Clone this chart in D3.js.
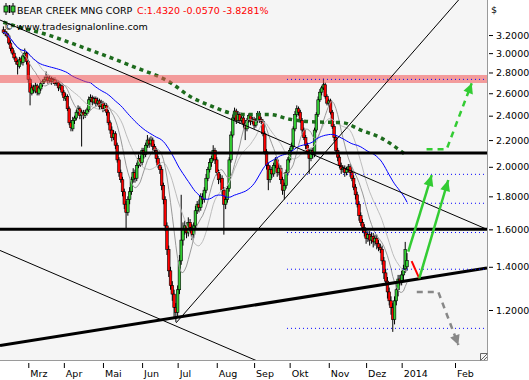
<!DOCTYPE html>
<html>
<head>
<meta charset="utf-8">
<script src="https://cdn.jsdelivr.net/npm/d3@7"></script>
<style>
  body { margin: 0; background: #fff; }
  svg { display: block; }
</style>
</head>
<body>
<svg id="chart" width="529" height="380"></svg>
<script>
// ---- data ----
var firstDay = '2013-02-08', lastDay = '2014-01-07';
var holidays = ['2013-02-18','2013-03-29','2013-05-20','2013-07-01','2013-08-05',
                '2013-09-02','2013-10-14','2013-12-25','2013-12-26','2014-01-01'];
var futureTicks = ['2014-02-03'];
var monthNames = ['Jan','Feb','Mrz','Apr','Mai','Jun','Jul','Aug','Sep','Okt','Nov','Dez'];
var priceTicks = [1.2, 1.4, 1.6, 1.8, 2.0, 2.2, 2.4, 2.6, 2.8, 3.0, 3.2];

var opens = [
  3.26,3.24,3.22,3.19,3.11,3.05,3.00,2.95,2.91,2.86, 2.94,2.90,2.96,3.00,2.91,2.73,2.60,2.66,2.62,2.67,
  2.60,2.64,2.69,2.71,2.73,2.75,2.72,2.74,2.71,2.73, 2.69,2.70,2.65,2.67,2.61,2.55,2.57,2.46,2.34,2.29,
  2.36,2.38,2.43,2.46,2.40,2.43,2.40,2.42,2.45,2.54, 2.56,2.52,2.55,2.51,2.53,2.48,2.51,2.46,2.49,2.43,
  2.34,2.28,2.22,2.25,2.16,2.05,1.96,1.91,1.83,1.75, 1.70,1.78,1.83,1.91,1.96,1.92,2.01,2.06,2.03,2.12,
  2.09,2.16,2.20,2.17,2.20,2.15,2.12,2.06,2.01,1.98, 1.87,1.78,1.62,1.49,1.38,1.31,1.27,1.21,1.19,1.29,
  1.43,1.54,1.60,1.62,1.58,1.64,1.61,1.57,1.62,1.71, 1.75,1.73,1.80,1.78,1.84,1.92,1.98,2.03,2.06,2.12,
  2.05,1.96,1.91,1.92,1.84,1.75,1.78,1.85,2.05,2.24, 2.38,2.44,2.36,2.41,2.36,2.38,2.33,2.29,2.36,2.40,
  2.35,2.37,2.32,2.36,2.42,2.37,2.35,2.25,2.11,2.01, 1.91,1.98,1.95,2.01,2.05,1.96,1.99,1.91,1.84,1.87,
  1.96,2.05,2.12,2.15,2.29,2.41,2.46,2.43,2.36,2.28, 2.22,2.16,2.11,2.06,2.12,2.09,2.28,2.41,2.54,2.61,
  2.65,2.68,2.57,2.51,2.53,2.43,2.31,2.22,2.12,2.07, 2.01,1.98,1.99,1.96,1.98,2.00,1.96,1.92,1.86,1.81,
  1.75,1.68,1.64,1.61,1.58,1.55,1.57,1.54,1.56,1.53, 1.55,1.52,1.50,1.49,1.43,1.37,1.33,1.28,1.24,1.21,
  1.16,1.24,1.29,1.34,1.33,1.36,1.39,1.40
];
var highs = [
  3.30,3.27,3.24,3.21,3.14,3.07,3.03,2.97,2.93,2.96, 2.96,2.99,3.05,3.02,2.93,2.75,2.68,2.68,2.70,2.69,
  2.67,2.71,2.73,2.76,2.81,2.77,2.77,2.76,2.75,2.75, 2.73,2.72,2.69,2.69,2.63,2.60,2.59,2.48,2.36,2.39,
  2.40,2.45,2.49,2.48,2.45,2.45,2.45,2.47,2.57,2.59, 2.58,2.57,2.57,2.56,2.55,2.54,2.53,2.51,2.51,2.45,
  2.36,2.31,2.28,2.27,2.18,2.07,1.98,1.93,1.85,1.77, 1.80,1.86,1.93,1.99,1.98,2.03,2.09,2.08,2.14,2.14,
  2.18,2.24,2.22,2.23,2.22,2.17,2.14,2.08,2.03,2.00, 1.89,1.80,1.64,1.51,1.40,1.33,1.29,1.23,1.31,1.46,
  1.81,1.64,1.65,1.64,1.67,1.66,1.63,1.64,1.74,1.77, 1.78,1.82,1.82,1.86,1.95,2.00,2.06,2.08,2.16,2.14,
  2.07,1.98,1.95,1.94,1.86,1.80,1.87,2.07,2.27,2.41, 2.47,2.46,2.44,2.43,2.40,2.40,2.35,2.38,2.42,2.42,
  2.39,2.39,2.38,2.44,2.44,2.39,2.37,2.27,2.13,2.03, 2.01,2.00,2.03,2.07,2.07,2.01,2.01,1.93,1.89,1.98,
  2.07,2.14,2.18,2.31,2.44,2.49,2.48,2.45,2.38,2.30, 2.24,2.18,2.13,2.14,2.14,2.30,2.43,2.57,2.64,2.67,
  2.74,2.70,2.59,2.55,2.55,2.45,2.33,2.24,2.14,2.09, 2.03,2.01,2.01,2.00,2.02,2.02,1.98,1.94,1.88,1.83,
  1.77,1.70,1.66,1.63,1.60,1.59,1.59,1.58,1.58,1.57, 1.57,1.54,1.52,1.51,1.45,1.39,1.35,1.30,1.26,1.23,
  1.26,1.31,1.36,1.36,1.38,1.41,1.53,1.47
];
var lows = [
  3.21,3.19,3.17,3.09,3.02,2.98,2.93,2.88,2.78,2.84, 2.88,2.87,2.94,2.88,2.70,2.49,2.58,2.60,2.60,2.58,
  2.58,2.62,2.66,2.69,2.71,2.69,2.70,2.68,2.69,2.67, 2.67,2.62,2.63,2.58,2.53,2.53,2.44,2.32,2.27,2.27,
  2.33,2.36,2.41,2.37,2.15,2.37,2.38,2.40,2.43,2.52, 2.49,2.50,2.48,2.49,2.45,2.46,2.43,2.44,2.40,2.32,
  2.25,2.19,2.20,2.13,2.03,1.93,1.89,1.80,1.72,1.60, 1.68,1.75,1.81,1.89,1.89,1.90,1.99,2.00,2.01,2.06,
  2.07,2.14,2.14,2.15,2.12,2.10,2.03,1.99,1.95,1.84, 1.75,1.59,1.46,1.35,1.29,1.24,1.17,1.15,1.17,1.27,
  1.41,1.51,1.57,1.55,1.56,1.58,1.54,1.55,1.60,1.69, 1.70,1.71,1.75,1.76,1.82,1.90,1.96,2.00,2.04,2.02,
  1.94,1.88,1.89,1.81,1.57,1.72,1.76,1.83,2.03,2.22, 2.36,2.33,2.34,2.33,2.34,2.30,2.20,2.27,2.34,2.32,
  2.33,2.29,2.30,2.34,2.34,2.33,2.23,2.09,1.98,1.84, 1.89,1.92,1.93,1.99,1.93,1.94,1.88,1.81,1.78,1.85,
  1.94,2.03,2.09,2.13,2.27,2.39,2.40,2.34,2.25,2.20, 2.13,2.09,1.95,2.04,2.06,2.07,2.26,2.39,2.52,2.58,
  2.63,2.55,2.49,2.48,2.41,2.29,2.19,2.10,2.04,1.99, 1.95,1.96,1.93,1.94,1.96,1.93,1.90,1.84,1.78,1.73,
  1.65,1.62,1.58,1.56,1.52,1.53,1.51,1.52,1.50,1.51, 1.49,1.48,1.47,1.41,1.34,1.31,1.25,1.22,1.18,1.11,
  1.14,1.22,1.26,1.31,1.31,1.33,1.37,1.38
];
var closes = [
  3.23,3.22,3.19,3.11,3.05,3.00,2.95,2.91,2.88,2.93, 2.91,2.97,3.00,2.91,2.73,2.61,2.65,2.63,2.67,2.61,
  2.65,2.69,2.71,2.73,2.75,2.72,2.74,2.71,2.73,2.69, 2.70,2.65,2.67,2.61,2.56,2.57,2.46,2.34,2.30,2.36,
  2.38,2.43,2.46,2.40,2.43,2.40,2.42,2.45,2.54,2.56, 2.52,2.55,2.51,2.53,2.48,2.51,2.46,2.49,2.43,2.34,
  2.28,2.22,2.25,2.16,2.05,1.96,1.91,1.83,1.75,1.70, 1.78,1.83,1.91,1.96,1.92,2.01,2.06,2.03,2.12,2.09,
  2.16,2.20,2.17,2.20,2.15,2.12,2.06,2.01,1.98,1.87, 1.78,1.62,1.49,1.38,1.31,1.27,1.21,1.19,1.29,1.43,
  1.54,1.60,1.62,1.58,1.64,1.61,1.57,1.62,1.71,1.75, 1.73,1.80,1.78,1.84,1.92,1.98,2.03,2.06,2.12,2.05,
  1.96,1.91,1.92,1.84,1.75,1.78,1.85,2.05,2.24,2.38, 2.44,2.36,2.41,2.36,2.38,2.33,2.29,2.36,2.40,2.35,
  2.37,2.32,2.36,2.42,2.37,2.35,2.25,2.11,2.01,1.91, 1.98,1.95,2.01,2.05,1.96,1.99,1.91,1.84,1.87,1.96,
  2.05,2.12,2.15,2.29,2.41,2.46,2.43,2.36,2.28,2.22, 2.16,2.11,2.06,2.12,2.09,2.28,2.41,2.54,2.61,2.65,
  2.68,2.57,2.51,2.53,2.43,2.31,2.22,2.12,2.07,2.01, 1.98,1.99,1.96,1.98,2.00,1.96,1.92,1.86,1.81,1.75,
  1.68,1.64,1.61,1.58,1.55,1.57,1.54,1.56,1.53,1.55, 1.52,1.50,1.49,1.43,1.37,1.33,1.28,1.24,1.21,1.16,
  1.24,1.29,1.34,1.33,1.36,1.39,1.489,1.432
];

// long (dark green dotted) average, read as [bar, price]
var longAverage = [[0,3.35],[9,3.29],[22,3.22],[45,3.06],[73,2.86],[94,2.70],[105,2.57],[116,2.49],
  [129,2.42],[139,2.41],[150,2.41],[161,2.37],[172,2.35],[191,2.34],[201,2.28],[212,2.22],[226,2.09]];

// drawn annotations, [bar, price]
var resistanceZone = [2.697, 2.775];
var thickLevels = [2.10, 1.60];
var dottedLevels = [2.732, 1.947, 1.756, 1.582, 1.388, 1.124];
var dottedFrom = 159.5, rightBar = 272;
var thinTrends = [
  [[-1.9, 3.376], [272, 1.600]],
  [[-1.9, 1.484], [150, 0.981]],
  [[97.1, 1.146], [262, 3.787]]
];
var thickTrends = [[[-1.9, 1.057], [272, 1.394]]];
var redLeg = [[229.6, 1.429], [233.9, 1.343]];
var greenArrows = [
  [[227.7, 1.478], [240.9, 1.942]],
  [[233.9, 1.343], [250.2, 1.908]]
];
var greenDashed = [[238, 2.129], [249.3, 2.129], [263.4, 2.694]];
var grayDashed = [[232.5, 1.28], [244.6, 1.28], [255.9, 1.059]];

// ---- build ----
var font = '"DejaVu Sans", Verdana, sans-serif';
var parse = d3.utcParse('%Y-%m-%d'), fmt = d3.utcFormat('%Y-%m-%d');
var days = d3.utcDay.range(parse(firstDay), d3.utcDay.offset(parse(lastDay), 1))
  .filter(function(d) { return d.getUTCDay() % 6 !== 0 && holidays.indexOf(fmt(d)) < 0; });

var last = closes.length - 1;
var x = d3.scaleLinear().domain([0, last]).range([3.4, 407]);
var y = d3.scaleLog().domain([1.004, 3.626]).range([360, 0]);

// month ticks: first bar of each month, then future dates on a calendar-day basis
var monthTicks = [];
days.forEach(function(d, i) {
  if (i > 0 && d.getUTCMonth() !== days[i - 1].getUTCMonth()) {
    var m = d.getUTCMonth();
    monthTicks.push({ i: i, label: m === 0 ? String(d.getUTCFullYear()) : monthNames[m] });
  }
});
futureTicks.forEach(function(s) {
  var d = parse(s);
  monthTicks.push({ i: last + d3.utcDay.count(days[last], d), label: monthNames[d.getUTCMonth()] });
});

var svg = d3.select('#chart');
svg.append('rect').attr('width', 529).attr('height', 380).attr('fill', '#fff');
svg.append('rect').attr('width', 487).attr('height', 360).attr('fill', '#f5f5f5');
svg.append('clipPath').attr('id', 'clip').append('rect').attr('width', 487).attr('height', 360);

var g = svg.append('g').attr('clip-path', 'url(#clip)');

// candles
var bars = closes.map(function(c, i) { return { i: i, o: opens[i], h: highs[i], l: lows[i], c: c }; });
var bar = g.append('g').selectAll('g').data(bars).enter().append('g');
bar.append('line')
  .attr('x1', function(d) { return x(d.i); }).attr('x2', function(d) { return x(d.i); })
  .attr('y1', function(d) { return y(d.h); }).attr('y2', function(d) { return y(d.l); })
  .attr('stroke', '#000').attr('stroke-width', 1);
bar.append('rect')
  .attr('x', function(d) { return x(d.i) - 1.3; })
  .attr('width', 2.6)
  .attr('y', function(d) { return y(Math.max(d.o, d.c)); })
  .attr('height', function(d) { return Math.max(0.8, Math.abs(y(d.o) - y(d.c))); })
  .attr('fill', function(d) { return d.c >= d.o ? '#33cc33' : '#ff0000'; })
  .attr('stroke', '#000').attr('stroke-width', 0.6);

// moving averages
function sma(n) {
  return closes.map(function(c, i) { return d3.mean(closes.slice(Math.max(0, i - n + 1), i + 1)); });
}
var maLine = d3.line().x(function(d, i) { return x(i); }).y(function(d) { return y(d); });
g.append('path').attr('d', maLine(sma(20))).attr('fill', 'none').attr('stroke', '#bdbdbd').attr('stroke-width', 1);
g.append('path').attr('d', maLine(sma(10))).attr('fill', 'none').attr('stroke', '#999').attr('stroke-width', 1);
g.append('path').attr('d', maLine(sma(50))).attr('fill', 'none').attr('stroke', '#0000ff').attr('stroke-width', 1);

var pLine = d3.line().x(function(d) { return x(d[0]); }).y(function(d) { return y(d[1]); });
g.append('path').attr('d', pLine.curve(d3.curveMonotoneX)(longAverage))
  .attr('fill', 'none').attr('stroke', '#1d6b1d').attr('stroke-width', 3.5).attr('stroke-dasharray', '4,4');
pLine.curve(d3.curveLinear);

// resistance zone
g.append('rect')
  .attr('x', 0).attr('width', 487)
  .attr('y', y(resistanceZone[1])).attr('height', y(resistanceZone[0]) - y(resistanceZone[1]))
  .attr('fill', 'rgb(240,80,80)').attr('fill-opacity', 0.55);

// trend lines
g.selectAll('path.thin').data(thinTrends).enter().append('path')
  .attr('d', pLine).attr('fill', 'none').attr('stroke', '#000').attr('stroke-width', 1);
g.selectAll('path.thick').data(thickTrends).enter().append('path')
  .attr('d', pLine).attr('fill', 'none').attr('stroke', '#000').attr('stroke-width', 3);
g.selectAll('line.lvl').data(thickLevels).enter().append('line')
  .attr('x1', 0).attr('x2', 487).attr('y1', function(d) { return y(d); }).attr('y2', function(d) { return y(d); })
  .attr('stroke', '#000').attr('stroke-width', 3);
g.selectAll('line.dot').data(dottedLevels).enter().append('line')
  .attr('x1', x(dottedFrom)).attr('x2', x(rightBar))
  .attr('y1', function(d) { return y(d); }).attr('y2', function(d) { return y(d); })
  .attr('stroke', '#0000ff').attr('stroke-width', 1).attr('stroke-dasharray', '1,3');

// projections
function head(pts, len, half) {
  var a = [x(pts[pts.length - 2][0]), y(pts[pts.length - 2][1])];
  var b = [x(pts[pts.length - 1][0]), y(pts[pts.length - 1][1])];
  var dx = b[0] - a[0], dy = b[1] - a[1], L = Math.hypot(dx, dy), ux = dx / L, uy = dy / L;
  var bx = b[0] - ux * len, by = b[1] - uy * len;
  return 'M' + b[0] + ',' + b[1] + 'L' + (bx - uy * half) + ',' + (by + ux * half) +
         'L' + (bx + uy * half) + ',' + (by - ux * half) + 'Z';
}
g.append('path').attr('d', pLine(redLeg)).attr('fill', 'none').attr('stroke', '#ff0000').attr('stroke-width', 2);
greenArrows.forEach(function(a) {
  g.append('path').attr('d', pLine(a)).attr('fill', 'none').attr('stroke', '#33cc33').attr('stroke-width', 2.5);
  g.append('path').attr('d', head(a, 11, 5)).attr('fill', '#33cc33');
});
g.append('path').attr('d', pLine(greenDashed)).attr('fill', 'none').attr('stroke', '#33cc33')
  .attr('stroke-width', 2.5).attr('stroke-dasharray', '6,5');
g.append('path').attr('d', head(greenDashed, 10, 5)).attr('fill', '#33cc33');
g.append('path').attr('d', pLine(grayDashed)).attr('fill', 'none').attr('stroke', '#888')
  .attr('stroke-width', 2.5).attr('stroke-dasharray', '6,5');
g.append('path').attr('d', head(grayDashed, 10, 5)).attr('fill', '#888');

// frame
svg.append('path').attr('d', 'M487.5,0V360.5H0').attr('fill', 'none').attr('stroke', '#9a9a9a');
svg.append('path').attr('d', 'M480.5,360.5V353.5H487.5M481,360L487,354M484,360L487,357')
  .attr('fill', 'none').attr('stroke', '#666').attr('stroke-width', 1);

// axes
var yAxis = d3.axisRight(y).tickValues(priceTicks).tickFormat(d3.format('.4f')).tickSize(4).tickPadding(3);
svg.append('g').attr('transform', 'translate(489,0)').call(yAxis)
  .attr('font-family', font).attr('font-size', 9.5)
  .call(function(s) { s.select('.domain').remove(); });
svg.append('text').attr('x', 491).attr('y', 13).attr('font-family', font).attr('font-size', 9.5).text('$');

var xAxis = d3.axisBottom(x).tickValues(monthTicks.map(function(d) { return d.i; }))
  .tickFormat(function(d, k) { return monthTicks[k].label; }).tickSize(5);
svg.append('g').attr('transform', 'translate(0,363)').call(xAxis)
  .attr('font-family', font).attr('font-size', 9.5)
  .call(function(s) {
    s.select('.domain').remove();
    s.selectAll('text').attr('text-anchor', 'start').attr('x', 1.5).attr('y', 7).attr('dy', '0.71em');
  });

// header
var icon = svg.append('g');
[6, 13].forEach(function(cx) {
  icon.append('line').attr('x1', cx).attr('x2', cx).attr('y1', 3).attr('y2', 15).attr('stroke', '#000');
  icon.append('rect').attr('x', cx - 2).attr('y', 6).attr('width', 4).attr('height', 6)
    .attr('fill', '#33cc33').attr('stroke', '#000').attr('stroke-width', 0.8);
});
icon.append('line').attr('x1', 9.5).attr('x2', 9.5).attr('y1', 5).attr('y2', 13).attr('stroke', '#000').attr('stroke-width', 1.5);

svg.append('text').attr('x', 17).attr('y', 13.5).attr('font-family', font).attr('font-size', 9.5)
  .attr('fill', '#000').text('BEAR CREEK MNG CORP');
svg.append('text').attr('x', 137).attr('y', 13.5).attr('font-family', font).attr('font-size', 9.5)
  .attr('fill', '#ff0000').text('C:1.4320 -0.0570 -3.8281%');
svg.append('text').attr('x', 4).attr('y', 29.5).attr('font-family', font).attr('font-size', 9.5)
  .attr('fill', '#000').text('\u00a9 www.tradesignalonline.com');
</script>
</body>
</html>
